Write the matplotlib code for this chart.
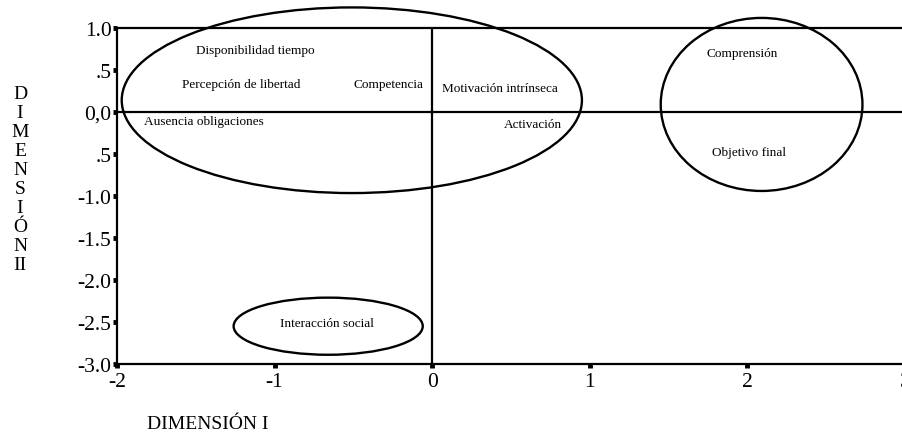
import matplotlib
matplotlib.use("Agg")
from matplotlib import pyplot as plt
from matplotlib.patches import Ellipse

plt.rcParams['font.family'] = ['Liberation Serif', 'DejaVu Serif']

# Point labels (MDS coordinates)
labels = ["Disponibilidad tiempo", "Percepción de libertad", "Competencia",
          "Motivación intrínseca", "Ausencia obligaciones", "Activación",
          "Comprensión", "Objetivo final", "Interacción social"]
dim1 = [-1.12, -1.21, -0.28, 0.43, -1.45, 0.64, 1.97, 2.01, -0.67]
dim2 = [0.74, 0.33, 0.33, 0.29, -0.11, -0.14, 0.70, -0.48, -2.51]

# Cluster ellipses: centre x, centre y, width, height
ell_x = [-0.51, 2.09, -0.66]
ell_y = [0.14, 0.09, -2.55]
ell_w = [2.92, 1.28, 1.20]
ell_h = [2.21, 2.06, 0.68]

xticks = [-2, -1, 0, 1, 2, 3]
yticks = [1.0, 0.5, 0.0, -0.5, -1.0, -1.5, -2.0, -2.5, -3.0]
yticklabels = ["1.0", ".5", "0,0", ".5", "-1.0", "-1.5", "-2.0", "-2.5", "-3.0"]

fig = plt.figure(figsize=(9.03, 4.39), dpi=100)
ax = fig.add_axes([117 / 903, 1 - 365 / 439, 788 / 903, 336 / 439])
ax.set_xlim(-2, 3)
ax.set_ylim(-3, 1)

for s in ['left', 'bottom', 'top']:
    ax.spines[s].set_linewidth(1.6)
ax.spines['right'].set_visible(False)

ax.axhline(0, color='black', lw=1.6)
ax.axvline(0, color='black', lw=1.6)

for cx, cy, w, h in zip(ell_x, ell_y, ell_w, ell_h):
    ax.add_patch(Ellipse((cx, cy), w, h, fill=False, edgecolor='black',
                         lw=1.7, clip_on=False))

for lab, x, y in zip(labels, dim1, dim2):
    ax.text(x, y, lab, ha='center', va='center', fontsize=9.5)

ax.set_xticks(xticks)
ax.set_xticklabels([str(t) for t in xticks])
ax.set_yticks(yticks)
ax.set_yticklabels(yticklabels)
ax.tick_params(axis='both', length=3, width=3.5, labelsize=15.5)
ax.tick_params(axis='x', pad=3)
ax.tick_params(axis='y', pad=1)

fig.text(20 / 903, 1 - 180 / 439, "\n".join(list("DIMENSIÓN") + ["II"]),
         ha='center', va='center', fontsize=14, linespacing=1.16)
fig.text(147 / 903, 1 - 425 / 439, "DIMENSIÓN I", ha='left', va='center',
         fontsize=14)

fig.savefig("out.png", dpi=100)
